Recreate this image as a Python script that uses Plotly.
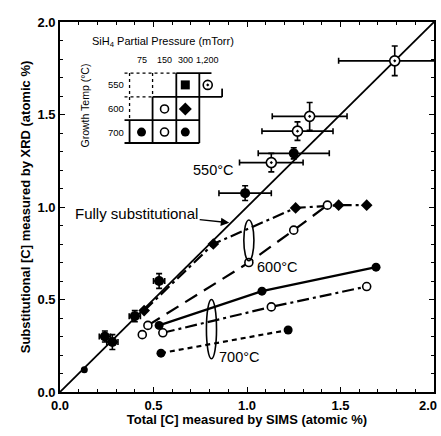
import plotly.graph_objects as go

# ---- data ----
diag = [0.0, 2.0]

# 550 C, 1200 mTorr (open circle with dot), with error bars
s550_1200_x = [1.79, 1.335, 1.27, 1.13]
s550_1200_y = [1.79, 1.49, 1.41, 1.24]
s550_1200_ex = [0.30, 0.20, 0.19, 0.17]
s550_1200_ey = [0.08, 0.075, 0.05, 0.05]

# 550 C, 300 mTorr (filled), with error bars
s550_300_x = [1.25, 0.99, 0.53, 0.40, 0.28, 0.24]
s550_300_y = [1.29, 1.075, 0.60, 0.41, 0.27, 0.30]
s550_300_ex = [0.19, 0.14, 0.03, 0.03, 0.03, 0.03]
s550_300_ey = [0.03, 0.04, 0.04, 0.03, 0.04, 0.03]

# small point on diagonal
low_x = [0.13]
low_y = [0.12]

# 600 C, 300 mTorr (filled diamond) dash-dot
s600_300_x = [0.45, 0.82, 1.26, 1.49, 1.64]
s600_300_y = [0.44, 0.80, 0.995, 1.01, 1.01]

# 600 C, 150 mTorr (open circle) long dash
s600_150_x = [0.47, 1.01, 1.25, 1.43]
s600_150_y = [0.36, 0.70, 0.875, 1.01]
extra_x = [0.44]
extra_y = [0.31]

# 700 C, 300 mTorr (filled) solid
s700_300_x = [0.53, 1.08, 1.69]
s700_300_y = [0.36, 0.545, 0.675]

# 700 C, 150 mTorr (open circle) dash-dot
s700_150_x = [0.55, 1.13, 1.64]
s700_150_y = [0.32, 0.46, 0.57]

# 700 C, 75 mTorr (filled) dotted
s700_75_x = [0.54, 1.22]
s700_75_y = [0.21, 0.335]

# inset table
press_labels = ["75", "150", "300", "1,200"]
press_x = [0.436, 0.559, 0.67, 0.79]
temp_labels = ["550", "600", "700"]
temp_y = [1.66, 1.53, 1.405]

tick_vals = [0.0, 0.5, 1.0, 1.5]
tick_text = ["0.0", "0.5", "1.0", "1.5"]
ytick_vals = [0.0, 0.5, 1.0, 1.5, 2.0]
ytick_text = ["0.0", "0.5", "1.0", "1.5", "2.0"]

K = "black"
fig = go.Figure()

fig.add_trace(go.Scatter(x=diag, y=diag, mode="lines", line=dict(color=K, width=1.8), showlegend=False))

fig.add_trace(go.Scatter(x=s600_300_x, y=s600_300_y, mode="lines+markers",
                         line=dict(color=K, width=2.2, dash="12px,4px,3px,4px"),
                         marker=dict(symbol="diamond", size=9, color=K), showlegend=False))
fig.add_trace(go.Scatter(x=s600_150_x, y=s600_150_y, mode="lines+markers",
                         line=dict(color=K, width=2.2, dash="14px,8px"),
                         marker=dict(symbol="circle", size=8, color="white", line=dict(color=K, width=1.6)), showlegend=False))
fig.add_trace(go.Scatter(x=extra_x, y=extra_y, mode="markers",
                         marker=dict(symbol="circle", size=8, color="white", line=dict(color=K, width=1.6)), showlegend=False))
fig.add_trace(go.Scatter(x=s700_300_x, y=s700_300_y, mode="lines+markers",
                         line=dict(color=K, width=2.2),
                         marker=dict(symbol="circle", size=9, color=K), showlegend=False))
fig.add_trace(go.Scatter(x=s700_150_x, y=s700_150_y, mode="lines+markers",
                         line=dict(color=K, width=2.2, dash="12px,4px,3px,4px"),
                         marker=dict(symbol="circle", size=8, color="white", line=dict(color=K, width=1.6)), showlegend=False))
fig.add_trace(go.Scatter(x=s700_75_x, y=s700_75_y, mode="lines+markers",
                         line=dict(color=K, width=2.2, dash="5px,4px"),
                         marker=dict(symbol="circle", size=9, color=K), showlegend=False))

fig.add_trace(go.Scatter(x=s550_300_x, y=s550_300_y, mode="markers",
                         error_x=dict(type="data", array=s550_300_ex, color=K, thickness=1.6, width=3),
                         error_y=dict(type="data", array=s550_300_ey, color=K, thickness=1.6, width=3),
                         marker=dict(symbol="circle", size=10, color=K), showlegend=False))
fig.add_trace(go.Scatter(x=s550_1200_x, y=s550_1200_y, mode="markers",
                         error_x=dict(type="data", array=s550_1200_ex, color=K, thickness=1.6, width=3),
                         error_y=dict(type="data", array=s550_1200_ey, color=K, thickness=1.6, width=3),
                         marker=dict(symbol="circle-dot", size=10, color="white", line=dict(color=K, width=1.6)), showlegend=False))
fig.add_trace(go.Scatter(x=low_x, y=low_y, mode="markers",
                         marker=dict(symbol="circle", size=7, color=K), showlegend=False))

# inset markers
fig.add_trace(go.Scatter(x=[press_x[2]], y=[temp_y[0]], mode="markers",
                         marker=dict(symbol="square", size=9, color=K), showlegend=False))
fig.add_trace(go.Scatter(x=[press_x[3]], y=[temp_y[0]], mode="markers",
                         marker=dict(symbol="circle-dot", size=9, color="white", line=dict(color=K, width=1.6)), showlegend=False))
fig.add_trace(go.Scatter(x=[press_x[1], press_x[1]], y=[temp_y[1], temp_y[2]], mode="markers",
                         marker=dict(symbol="circle", size=8, color="white", line=dict(color=K, width=1.6)), showlegend=False))
fig.add_trace(go.Scatter(x=[press_x[2]], y=[temp_y[1]], mode="markers",
                         marker=dict(symbol="diamond", size=10, color=K), showlegend=False))
fig.add_trace(go.Scatter(x=[press_x[0], press_x[2]], y=[temp_y[2], temp_y[2]], mode="markers",
                         marker=dict(symbol="circle", size=9, color=K), showlegend=False))

shapes = []
def seg(x0, y0, x1, y1, dash="solid", w=1.8):
    shapes.append(dict(type="line", xref="x", yref="y", x0=x0, y0=y0, x1=x1, y1=y1,
                       line=dict(color=K, width=w, dash=dash)))

vx = [0.345, 0.372, 0.495, 0.622, 0.745, 0.867]
hy = [1.724, 1.595, 1.47, 1.346]
# dotted
seg(vx[0], hy[0], vx[3], hy[0], "dot", 1.3)
seg(vx[0], hy[1], vx[2], hy[1], "dot", 1.3)
seg(vx[1], hy[0], vx[1], hy[2], "dot", 1.3)
seg(vx[2], hy[0], vx[2], hy[1], "dot", 1.3)
# solid
seg(vx[3], hy[0], 0.81, hy[0])
seg(vx[3], hy[0], vx[3], hy[3])
seg(vx[4], hy[0], vx[4], hy[3])
seg(vx[5], 1.64, vx[5], hy[1])
seg(vx[2], hy[1], vx[5], hy[1])
seg(vx[2], hy[1], vx[2], hy[3])
seg(vx[0], hy[2], vx[4], hy[2])
seg(vx[1], hy[2], vx[1], hy[3])
seg(vx[0], hy[3], vx[4], hy[3])

# ellipses
shapes.append(dict(type="circle", xref="x", yref="y", x0=0.983, x1=1.037, y0=0.71, y1=0.93,
                   line=dict(color=K, width=1.6)))
shapes.append(dict(type="circle", xref="x", yref="y", x0=0.783, x1=0.837, y0=0.18, y1=0.50,
                   line=dict(color=K, width=1.6)))

FONT = "Liberation Sans, Arial, sans-serif"
ann = []
def txt(x, y, t, size=12, angle=0, xa="center"):
    ann.append(dict(x=x, y=y, xref="x", yref="y", text=t, showarrow=False, xanchor=xa,
                    textangle=angle, font=dict(size=size, color=K, family=FONT)))

txt(0.553, 1.89, "SiH<sub>4</sub> Partial Pressure (mTorr)", 11)
for lab, px in zip(press_labels, press_x):
    txt(px, 1.795, lab, 9)
for lab, py in zip(temp_labels, temp_y):
    txt(0.30, py, lab, 9.5)
txt(0.135, 1.55, "Growth Temp (°C)", 10.5, -90)
txt(0.82, 1.2, "550°C", 14.5)
txt(1.045, 0.675, "600°C", 14.5, xa="left")
txt(0.84, 0.19, "700°C", 14.5, xa="left")
ann.append(dict(x=0.905, y=0.915, ax=0.41, ay=0.967, xref="x", yref="y", axref="x", ayref="y",
                text="Fully substitutional", showarrow=True, arrowhead=2, arrowsize=1.2,
                arrowwidth=1.4, arrowcolor=K, font=dict(size=15, color=K, family=FONT)))
# x tick label at 2.0 (at the right edge, as in the original)
ann.append(dict(x=2.0, y=0, xref="x", yref="paper", yshift=-4, xshift=-6, text="<b>2.0</b>", showarrow=False,
                xanchor="center", yanchor="top", font=dict(size=13, color=K, family=FONT)))

fig.update_layout(
    width=441, height=436,
    margin=dict(l=60, r=5, t=22, b=44),
    paper_bgcolor="white", plot_bgcolor="white",
    font=dict(family=FONT, color=K, size=12),
    shapes=shapes, annotations=ann,
    xaxis=dict(range=[0, 2], tickvals=tick_vals, ticktext=["<b>%s</b>" % t for t in tick_text],
               ticks="inside", ticklen=5,
               tickwidth=1.4, tickcolor=K, showline=True, linecolor=K, linewidth=1.8, mirror="ticks",
               showgrid=False, zeroline=False,
               minor=dict(dtick=0.1, ticks="inside", ticklen=3, tickcolor=K, showgrid=False),
               title=dict(text="<b>Total [C] measured by SIMS (atomic %)</b>", font=dict(size=13), standoff=1),
               tickfont=dict(size=13)),
    yaxis=dict(range=[0, 2], tickvals=ytick_vals, ticktext=["<b>%s</b>" % t for t in ytick_text],
               ticks="inside", ticklen=5,
               tickwidth=1.4, tickcolor=K, showline=True, linecolor=K, linewidth=1.8, mirror="ticks",
               showgrid=False, zeroline=False,
               minor=dict(dtick=0.1, ticks="inside", ticklen=3, tickcolor=K, showgrid=False),
               title=dict(text="<b>Substitutional [C] measured by XRD (atomic %)</b>", font=dict(size=13), standoff=4),
               tickfont=dict(size=13)),
)

fig.write_html("out.html")
